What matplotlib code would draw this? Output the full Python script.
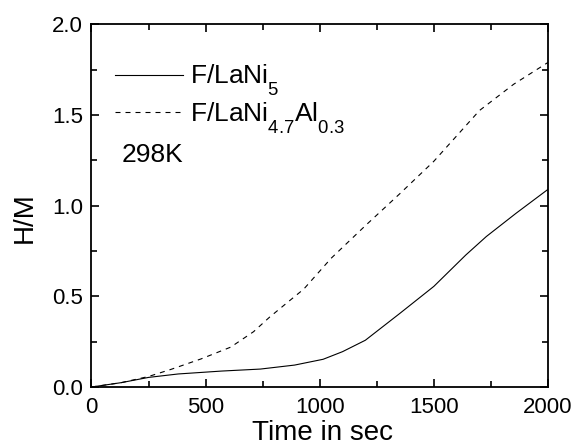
import matplotlib
matplotlib.use("Agg")
import matplotlib.pyplot as plt
from matplotlib.ticker import MultipleLocator, FormatStrFormatter
import matplotlib._mathtext as _mt

plt.rcParams['font.family'] = ['Liberation Sans', 'DejaVu Sans']
plt.rcParams['mathtext.fontset'] = 'custom'
plt.rcParams['mathtext.rm'] = 'Liberation Sans'
plt.rcParams['mathtext.it'] = 'Liberation Sans'
plt.rcParams['mathtext.default'] = 'rm'
# lower subscripts, like the reference typesetting
_mt.FontConstantsBase.sub1 = 0.9
_mt.FontConstantsBase.sub2 = 0.9

# Data
t_lani5 = [0, 130, 250, 380, 570, 740, 890, 1015, 1100, 1200, 1350, 1500, 1640, 1730, 1860, 2000]
hm_lani5 = [0, 0.024, 0.053, 0.072, 0.088, 0.099, 0.121, 0.153, 0.195, 0.258, 0.405, 0.555, 0.728, 0.83, 0.958, 1.09]

t_lanial = [0, 130, 250, 350, 480, 610, 710, 780, 860, 930, 1050, 1200, 1350, 1500, 1700, 1850, 2000]
hm_lanial = [0, 0.024, 0.058, 0.098, 0.155, 0.22, 0.305, 0.385, 0.468, 0.54, 0.71, 0.89, 1.065, 1.245, 1.525, 1.67, 1.79]

label_a = r'F/LaNi$_{5}$'
label_b = r'F/LaNi$_{4.7}$Al$_{0.3}$'
annot = '298K'
xlabel = 'Time in sec'
ylabel = 'H/M'

fig = plt.figure(figsize=(5.78, 4.45), dpi=100)
ax = fig.add_axes([0.1583, 0.1303, 0.948 - 0.1583, 0.9452 - 0.1303])

ax.plot(t_lani5, hm_lani5, color='black', lw=0.8, label=label_a)
ax.plot(t_lanial, hm_lanial, color='black', lw=0.8, linestyle=(0, (4.5, 4.5)), label=label_b)

ax.set_xlim(0, 2000)
ax.set_ylim(0, 2.0)
ax.xaxis.set_major_locator(MultipleLocator(500))
ax.xaxis.set_minor_locator(MultipleLocator(250))
ax.yaxis.set_major_locator(MultipleLocator(0.5))
ax.yaxis.set_minor_locator(MultipleLocator(0.25))
ax.yaxis.set_major_formatter(FormatStrFormatter('%.1f'))
ax.tick_params(which='both', direction='in', top=True, right=True, width=1.2, labelsize=16)
ax.tick_params(axis='x', which='major', pad=7)
ax.tick_params(axis='y', which='major', pad=6)
ax.tick_params(which='major', length=6)
ax.tick_params(which='minor', length=4)
for s in ax.spines.values():
    s.set_linewidth(1.3)

ax.set_xlabel(xlabel, fontsize=20)
ax.set_ylabel(ylabel, fontsize=20)
ax.xaxis.set_label_coords(0.507, -0.09)
ax.yaxis.set_label_coords(-0.117, 0.467)

leg = ax.legend(loc='upper left', bbox_to_anchor=(0.0515, 0.894), frameon=False,
                fontsize=19, handlelength=2.58, handletextpad=0.27, labelspacing=0.08,
                borderaxespad=0, borderpad=0)
ax.text(0.067, 0.62, annot, transform=ax.transAxes, fontsize=19, va='baseline')

fig.savefig('out.png', dpi=100)
